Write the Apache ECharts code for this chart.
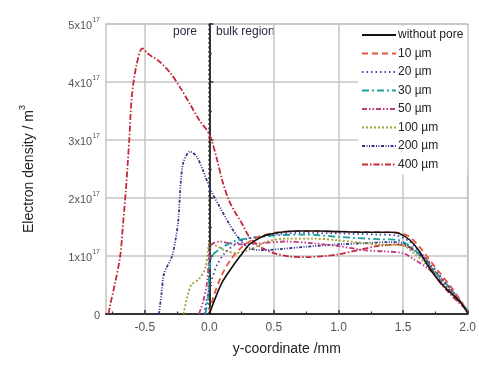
<!DOCTYPE html>
<html>
<head>
<meta charset="utf-8">
<script src="https://cdn.jsdelivr.net/npm/echarts@6/dist/echarts.min.js"></script>
<style>
  html, body { margin: 0; padding: 0; background: #fff; }
  #chart { width: 479px; height: 365px; }
</style>
</head>
<body>
<div id="chart"></div>
<script>
// y values are in units of 1e17 m^-3, x in mm
const xTicks = [-0.5, 0.0, 0.5, 1.0, 1.5, 2.0];
const yTicks = [0, 1, 2, 3, 4, 5];
const dividerX = 0;

const withoutPore = [[0, 0], [0.04, 0.24], [0.1, 0.55], [0.18, 0.82], [0.25, 1.03], [0.31, 1.2], [0.38, 1.3], [0.44, 1.36], [0.55, 1.41], [0.7, 1.43], [0.85, 1.43], [1.0, 1.42], [1.2, 1.41], [1.4, 1.41], [1.47, 1.39], [1.55, 1.28], [1.62, 1.1], [1.69, 0.84], [1.76, 0.62], [1.82, 0.47], [1.9, 0.3], [1.95, 0.19], [2.0, 0.02]];
const pore10 = [[0, 0.02], [0.03, 0.28], [0.09, 0.64], [0.16, 0.92], [0.25, 1.15], [0.35, 1.3], [0.5, 1.4], [0.7, 1.43], [1.0, 1.42], [1.3, 1.41], [1.47, 1.4], [1.55, 1.33], [1.63, 1.15], [1.7, 0.95], [1.78, 0.72], [1.86, 0.5], [1.94, 0.25], [2.0, 0.03]];
const pore20 = [[-0.04, 0], [-0.01, 0.35], [0.02, 0.6], [0.06, 0.85], [0.12, 1.05], [0.2, 1.2], [0.3, 1.3], [0.5, 1.37], [0.7, 1.4], [1.0, 1.39], [1.3, 1.37], [1.45, 1.35], [1.55, 1.25], [1.63, 1.07], [1.72, 0.85], [1.8, 0.62], [1.9, 0.35], [2.0, 0.03]];
const pore30 = [[-0.03, 0], [-0.01, 0.3], [0, 0.7], [0.02, 1.0], [0.09, 1.13], [0.2, 1.26], [0.35, 1.32], [0.55, 1.36], [0.75, 1.37], [1.0, 1.33], [1.3, 1.29], [1.45, 1.28], [1.55, 1.18], [1.63, 1.02], [1.72, 0.8], [1.82, 0.55], [1.92, 0.3], [2.0, 0.05]];
const pore50 = [[-0.08, 0], [-0.05, 0.2], [-0.02, 0.5], [0, 1.0], [0.02, 1.2], [0.08, 1.25], [0.15, 1.22], [0.25, 1.2], [0.4, 1.22], [0.6, 1.25], [0.8, 1.22], [1.0, 1.17], [1.2, 1.1], [1.35, 1.08], [1.5, 1.05], [1.58, 0.95], [1.69, 0.79], [1.78, 0.6], [1.86, 0.4], [1.94, 0.2], [2.0, 0.05]];
const pore100 = [[-0.2, 0], [-0.17, 0.3], [-0.14, 0.5], [-0.08, 0.6], [-0.03, 0.8], [-0.01, 1.1], [0, 1.22], [0.05, 1.18], [0.12, 1.1], [0.2, 1.05], [0.3, 1.1], [0.45, 1.25], [0.6, 1.3], [0.8, 1.3], [1.0, 1.27], [1.3, 1.2], [1.5, 1.18], [1.58, 1.05], [1.66, 0.9], [1.75, 0.7], [1.85, 0.45], [1.93, 0.25], [2.0, 0.05]];
const pore200 = [[-0.39, 0], [-0.37, 0.35], [-0.35, 0.7], [-0.29, 0.99], [-0.26, 1.3], [-0.24, 1.62], [-0.22, 2.3], [-0.2, 2.62], [-0.15, 2.8], [-0.1, 2.72], [-0.05, 2.48], [0.01, 2.14], [0.08, 1.85], [0.15, 1.57], [0.22, 1.33], [0.3, 1.15], [0.4, 1.1], [0.55, 1.12], [0.75, 1.16], [1.0, 1.2], [1.2, 1.22], [1.4, 1.24], [1.5, 1.22], [1.58, 1.1], [1.66, 0.95], [1.75, 0.72], [1.85, 0.48], [1.93, 0.25], [2.0, 0.05]];
const pore400 = [[-0.78, 0], [-0.77, 0.13], [-0.73, 0.53], [-0.69, 1.0], [-0.67, 1.5], [-0.646, 2.14], [-0.63, 2.66], [-0.62, 3.0], [-0.6, 3.75], [-0.564, 4.29], [-0.518, 4.58], [-0.47, 4.48], [-0.385, 4.35], [-0.3, 4.15], [-0.23, 3.92], [-0.15, 3.62], [-0.077, 3.34], [0, 3.1], [0.06, 2.66], [0.1, 2.3], [0.15, 1.97], [0.2, 1.75], [0.25, 1.57], [0.31, 1.33], [0.4, 1.15], [0.5, 1.05], [0.62, 0.99], [0.75, 0.98], [0.9, 1.0], [1.0, 1.03], [1.15, 1.1], [1.3, 1.17], [1.45, 1.2], [1.55, 1.15], [1.62, 1.05], [1.67, 0.97], [1.72, 0.8], [1.77, 0.59], [1.85, 0.38], [1.93, 0.2], [2.0, 0.05]];

const seriesNames = ["without pore", "10 \u00b5m", "20 \u00b5m", "30 \u00b5m", "50 \u00b5m", "100 \u00b5m", "200 \u00b5m", "400 \u00b5m"];
const seriesData = [withoutPore, pore10, pore20, pore30, pore50, pore100, pore200, pore400];
const seriesColors = ["#111111", "#e8553e", "#4646a8", "#1fa0a0", "#c23c82", "#a3a032", "#34348e", "#c4283a"];
const seriesDash = ["solid", [6, 4], [1.5, 3], [7, 3, 2, 3], [5, 2, 1.5, 2, 1.5, 2], [2, 2], [3, 1.5, 1, 1.5, 1, 1.5], [6, 2, 1.5, 2]];

const chart = echarts.init(document.getElementById("chart"), null, { renderer: "canvas" });

const series = seriesNames.map((name, i) => ({
  name: name,
  type: "line",
  data: seriesData[i],
  showSymbol: false,
  symbol: "none",
  smooth: 0.3,
  z: 10 - i,
  lineStyle: {
    color: seriesColors[i],
    width: i === 0 ? 1.6 : 1.8,
    type: seriesDash[i],
  },
  itemStyle: { color: seriesColors[i] },
  emphasis: { disabled: true },
}));

// dotted divider between pore and bulk region (spans the full y range)
series.push({
  name: "divider",
  type: "line",
  data: [[dividerX, yTicks[0]], [dividerX, yTicks[yTicks.length - 1]]],
  showSymbol: false,
  symbol: "none",
  silent: true,
  z: 1,
  lineStyle: { color: "#333", type: [2, 2.5], width: 2 },
  emphasis: { disabled: true },
});

chart.setOption({
  animation: false,
  textStyle: { fontFamily: "Liberation Sans, Arial, sans-serif" },
  grid: {
    left: 106,
    right: 9,
    top: 24,
    bottom: 51,
    show: true,
    borderColor: "#c4c4c4",
    borderWidth: 1.5,
  },
  legend: {
    orient: "vertical",
    left: 358,
    top: 26,
    itemWidth: 34,
    itemHeight: 12,
    itemGap: 6.5,
    padding: [3, 4, 4, 3],
    backgroundColor: "#fff",
    data: seriesNames,
    itemStyle: { opacity: 0, borderWidth: 0 },
    textStyle: { fontSize: 12, color: "#222", padding: [0, 0, 0, -3] },
  },
  xAxis: {
    type: "value",
    min: -0.8,
    max: 2.0,
    name: "y-coordinate /mm",
    nameLocation: "middle",
    nameGap: 28,
    nameTextStyle: { fontSize: 14, color: "#222" },
    axisLine: { show: true, onZero: false, lineStyle: { color: "#333", width: 2 } },
    axisTick: { show: true, inside: true, length: 4, customValues: xTicks, lineStyle: { color: "#333", width: 1.5 } },
    minorTick: { show: true, splitNumber: 2, length: 2.5, lineStyle: { color: "#333", width: 1.2 } },
    axisLabel: {
      customValues: xTicks,
      formatter: (v) => v.toFixed(1),
      fontSize: 12,
      color: "#555",
      margin: 8,
    },
    splitLine: { show: true, lineStyle: { color: "#c4c4c4", width: 1.5 } },
  },
  yAxis: {
    type: "value",
    min: yTicks[0],
    max: yTicks[yTicks.length - 1],
    interval: 1,
    name: "{a|Electron density / m}{s|3}",
    nameLocation: "middle",
    nameGap: 70,
    nameRotate: 90,
    nameTextStyle: {
      rich: {
        a: { fontSize: 14, color: "#222", lineHeight: 18, verticalAlign: "bottom" },
        s: { fontSize: 9, color: "#222", lineHeight: 18, verticalAlign: "top" },
      },
    },
    axisLine: { show: true, lineStyle: { color: "#333", width: 2 } },
    axisTick: { show: true, inside: true, length: 4, lineStyle: { color: "#333", width: 1.5 } },
    minorTick: { show: true, splitNumber: 2, length: 2.5, lineStyle: { color: "#333", width: 1.2 } },
    axisLabel: {
      margin: 6,
      formatter: (v) => (v === 0 ? "{a|0}" : "{a|" + v + "x10}{s|17}"),
      rich: {
        a: { fontSize: 11, color: "#555", lineHeight: 14, verticalAlign: "bottom" },
        s: { fontSize: 7, color: "#555", lineHeight: 14, verticalAlign: "top" },
      },
    },
    splitLine: { show: true, lineStyle: { color: "#c4c4c4", width: 1.5 } },
  },
  graphic: [
    { type: "text", left: 173, top: 26, style: { text: "pore", fontSize: 12, fill: "#2a2a40", fontFamily: "Liberation Sans, Arial, sans-serif" } },
    { type: "text", left: 216, top: 26, style: { text: "bulk region", fontSize: 12, fill: "#2a2a40", fontFamily: "Liberation Sans, Arial, sans-serif" } },
  ],
  series: series,
});
</script>
</body>
</html>
